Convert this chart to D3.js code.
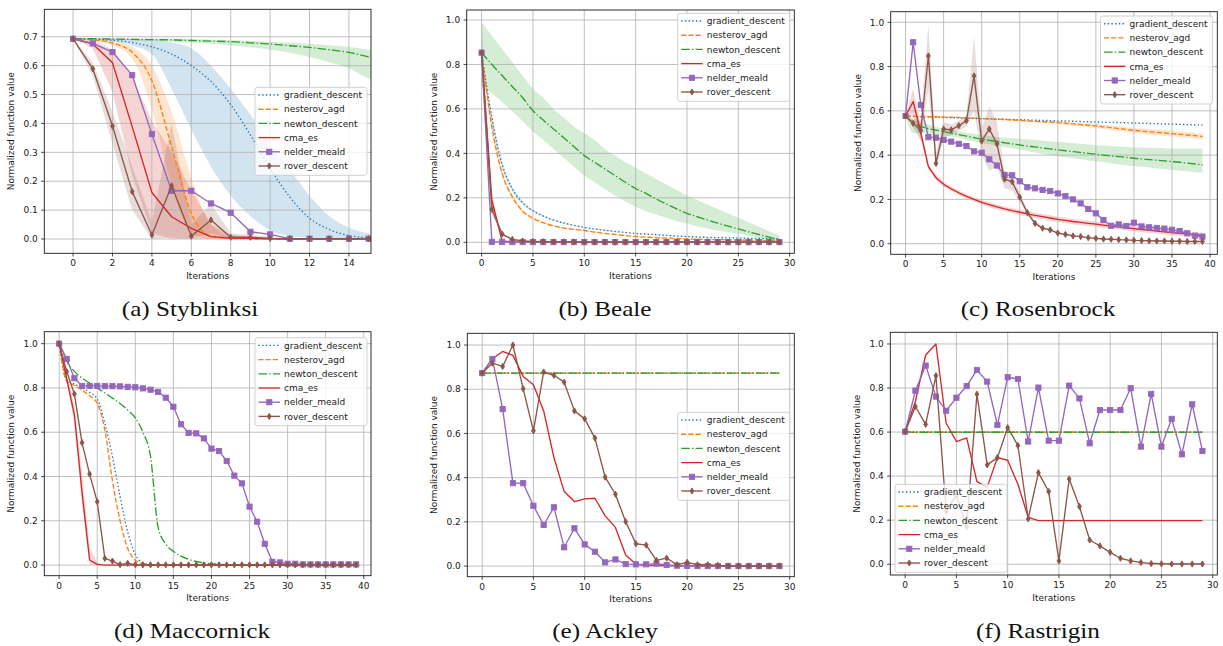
<!DOCTYPE html>
<html>
<head>
<meta charset="utf-8">
<script src="https://cdn.jsdelivr.net/npm/d3@7"></script>
<style>
  body { margin: 0; background: #fff; }
  svg { display: block; }
  text { font-family: "DejaVu Sans", sans-serif; }
  text.caption { font-family: "Liberation Serif", serif; }
</style>
</head>
<body>
<svg id="fig" width="1223" height="646"></svg>
<script>
// ---------------- series metadata ----------------
const seriesNames = ["gradient_descent", "nesterov_agd", "newton_descent", "cma_es", "nelder_meald", "rover_descent"];

// ---------------- tick labels ----------------
const styXTicks = [0, 2, 4, 6, 8, 10, 12, 14];
const styYTicks = [0.0, 0.1, 0.2, 0.3, 0.4, 0.5, 0.6, 0.7];
const thirtyXTicks = [0, 5, 10, 15, 20, 25, 30];
const fortyXTicks = [0, 5, 10, 15, 20, 25, 30, 35, 40];
const unitYTicks = [0.0, 0.2, 0.4, 0.6, 0.8, 1.0];

// ---------------- (a) Styblinksi ----------------
const styGD       = [0.693,0.692,0.688,0.680,0.665,0.640,0.600,0.545,0.465,0.360,0.245,0.145,0.072,0.033,0.012,0.004,0.001];
const styGDLo     = [0.693,0.690,0.684,0.670,0.640,0.520,0.380,0.250,0.150,0.080,0.030,0.010,0.004,0.001,0.000,0.000,0.000];
const styGDHi     = [0.693,0.694,0.693,0.692,0.690,0.680,0.660,0.600,0.520,0.430,0.330,0.240,0.150,0.080,0.040,0.020,0.010];
const styNAG      = [0.693,0.689,0.678,0.646,0.548,0.320,0.088,0.010,0.002,0.001,0.000,0.000,0.000,0.000,0.000,0.000,0.000];
const styNAGLo    = [0.693,0.686,0.670,0.625,0.450,0.190,0.020,0.000,0.000,0.000,0.000,0.000,0.000,0.000,0.000,0.000,0.000];
const styNAGHi    = [0.693,0.692,0.686,0.665,0.600,0.440,0.210,0.050,0.008,0.002,0.000,0.000,0.000,0.000,0.000,0.000,0.000];
const styNewton   = [0.693,0.693,0.692,0.691,0.690,0.689,0.687,0.685,0.683,0.679,0.675,0.669,0.663,0.655,0.646,0.630,0.615];
const styNewtonLo = [0.693,0.692,0.690,0.688,0.686,0.683,0.680,0.676,0.670,0.664,0.655,0.645,0.630,0.612,0.590,0.555,0.530];
const styNewtonHi = [0.693,0.694,0.694,0.694,0.693,0.693,0.692,0.690,0.688,0.686,0.683,0.680,0.676,0.671,0.665,0.655,0.648];
const styCMA      = [0.693,0.675,0.610,0.389,0.161,0.077,0.037,0.008,0.003,0.002,0.001,0.000,0.000,0.000,0.000,0.000,0.000];
const styCMALo    = [0.693,0.660,0.510,0.220,0.020,0.000,0.000,0.000,0.000,0.000,0.000,0.000,0.000,0.000,0.000,0.000,0.000];
const styCMAHi    = [0.693,0.690,0.655,0.560,0.410,0.300,0.170,0.050,0.015,0.008,0.004,0.002,0.001,0.000,0.000,0.000,0.000];
const styNM       = [0.693,0.677,0.647,0.567,0.363,0.167,0.167,0.123,0.091,0.025,0.016,0.001,0.001,0.001,0.001,0.001,0.001];
const styRover    = [0.693,0.589,0.391,0.164,0.014,0.184,0.010,0.066,0.006,0.006,0.002,0.001,0.001,0.001,0.001,0.001,0.001];
const styRoverLo  = [0.693,0.565,0.330,0.100,0.000,0.005,0.000,0.020,0.000,0.000,0.000,0.000,0.000,0.000,0.000,0.000,0.000];
const styRoverHi  = [0.693,0.610,0.440,0.250,0.060,0.400,0.050,0.120,0.020,0.015,0.006,0.003,0.002,0.002,0.002,0.002,0.002];

// ---------------- (b) Beale ----------------
const bealeGD       = [0.853,0.560,0.350,0.240,0.178,0.142,0.118,0.100,0.087,0.076,0.067,0.060,0.054,0.049,0.044,0.040,0.037,0.034,0.031,0.028,0.026,0.024,0.022,0.021,0.020,0.019,0.018,0.017,0.016,0.015];
const bealeGDLo     = [0.853,0.540,0.335,0.230,0.171,0.137,0.114,0.097,0.084,0.074,0.065,0.058,0.052,0.047,0.043,0.039,0.036,0.033,0.030,0.027,0.025,0.023,0.021,0.020,0.019,0.018,0.017,0.016,0.015,0.014];
const bealeGDHi     = [0.853,0.580,0.365,0.250,0.185,0.147,0.122,0.103,0.090,0.078,0.069,0.062,0.056,0.051,0.045,0.041,0.038,0.035,0.032,0.029,0.027,0.025,0.023,0.022,0.021,0.020,0.019,0.018,0.017,0.016];
const bealeNAG      = [0.853,0.520,0.310,0.205,0.140,0.108,0.088,0.074,0.064,0.058,0.053,0.046,0.040,0.035,0.030,0.026,0.023,0.021,0.019,0.017,0.015,0.014,0.013,0.012,0.011,0.010,0.009,0.009,0.008,0.008];
const bealeNAGLo    = [0.853,0.500,0.296,0.196,0.134,0.103,0.084,0.071,0.061,0.055,0.050,0.044,0.038,0.033,0.028,0.024,0.021,0.019,0.017,0.015,0.013,0.012,0.011,0.010,0.009,0.008,0.007,0.007,0.006,0.006];
const bealeNAGHi    = [0.853,0.540,0.324,0.214,0.146,0.113,0.092,0.077,0.067,0.061,0.056,0.048,0.042,0.037,0.032,0.028,0.025,0.023,0.021,0.019,0.017,0.016,0.015,0.014,0.013,0.012,0.011,0.011,0.010,0.010];
const bealeNewton   = [0.853,0.800,0.750,0.700,0.650,0.592,0.550,0.510,0.470,0.430,0.390,0.360,0.330,0.300,0.270,0.242,0.220,0.195,0.172,0.150,0.130,0.115,0.100,0.086,0.073,0.060,0.047,0.035,0.023,0.012];
const bealeNewtonLo = [0.700,0.670,0.630,0.590,0.545,0.500,0.460,0.420,0.380,0.340,0.300,0.270,0.240,0.210,0.185,0.160,0.140,0.125,0.110,0.095,0.085,0.072,0.062,0.052,0.045,0.038,0.030,0.020,0.010,0.003];
const bealeNewtonHi = [0.990,0.930,0.870,0.810,0.750,0.690,0.650,0.600,0.560,0.520,0.490,0.460,0.420,0.390,0.360,0.335,0.310,0.285,0.260,0.235,0.210,0.190,0.170,0.150,0.130,0.110,0.090,0.070,0.050,0.030];
const bealeCMA      = [0.853,0.190,0.005,0.002,0.001,0.001,0.001,0.001,0.001,0.001,0.001,0.001,0.001,0.001,0.001,0.001,0.001,0.001,0.001,0.001,0.001,0.001,0.001,0.001,0.001,0.001,0.001,0.001,0.001,0.001];
const bealeCMALo    = [0.853,0.160,0.003,0.001,0.000,0.000,0.000,0.000,0.000,0.000,0.000,0.000,0.000,0.000,0.000,0.000,0.000,0.000,0.000,0.000,0.000,0.000,0.000,0.000,0.000,0.000,0.000,0.000,0.000,0.000];
const bealeCMAHi    = [0.853,0.220,0.010,0.004,0.002,0.002,0.002,0.002,0.002,0.002,0.002,0.002,0.002,0.002,0.002,0.002,0.002,0.002,0.002,0.002,0.002,0.002,0.002,0.002,0.002,0.002,0.002,0.002,0.002,0.002];
const bealeNM       = [0.853,0.002,0.002,0.001,0.001,0.001,0.001,0.001,0.001,0.001,0.001,0.001,0.001,0.001,0.001,0.001,0.001,0.001,0.001,0.001,0.001,0.001,0.001,0.001,0.001,0.001,0.001,0.001,0.001,0.001];
const bealeRover    = [0.853,0.148,0.037,0.013,0.006,0.004,0.003,0.002,0.002,0.002,0.001,0.001,0.001,0.001,0.001,0.001,0.001,0.001,0.001,0.001,0.001,0.001,0.001,0.001,0.001,0.001,0.001,0.001,0.001,0.001];
const bealeRoverLo  = [0.750,0.125,0.030,0.010,0.004,0.003,0.002,0.001,0.001,0.001,0.000,0.000,0.000,0.000,0.000,0.000,0.000,0.000,0.000,0.000,0.000,0.000,0.000,0.000,0.000,0.000,0.000,0.000,0.000,0.000];
const bealeRoverHi  = [0.990,0.170,0.045,0.016,0.008,0.005,0.004,0.003,0.003,0.003,0.002,0.002,0.002,0.002,0.002,0.002,0.002,0.002,0.002,0.002,0.002,0.002,0.002,0.002,0.002,0.002,0.002,0.002,0.002,0.002];

// ---------------- (c) Rosenbrock ----------------
const rosenGD       = [0.575,0.574,0.573,0.572,0.571,0.570,0.569,0.568,0.567,0.566,0.565,0.564,0.563,0.562,0.561,0.560,0.559,0.558,0.557,0.556,0.555,0.554,0.553,0.552,0.551,0.550,0.549,0.548,0.547,0.546,0.545,0.544,0.543,0.542,0.541,0.540,0.539,0.538,0.537,0.536];
const rosenNAG      = [0.577,0.576,0.575,0.574,0.573,0.572,0.571,0.570,0.568,0.567,0.565,0.564,0.562,0.561,0.559,0.557,0.555,0.553,0.551,0.549,0.547,0.544,0.541,0.538,0.535,0.532,0.528,0.524,0.520,0.516,0.512,0.509,0.506,0.503,0.500,0.497,0.494,0.491,0.488,0.484];
const rosenNAGLo    = [0.577,0.574,0.573,0.572,0.571,0.570,0.569,0.568,0.566,0.565,0.562,0.561,0.559,0.557,0.555,0.552,0.550,0.547,0.545,0.542,0.540,0.536,0.533,0.530,0.526,0.523,0.518,0.514,0.510,0.505,0.501,0.497,0.494,0.490,0.487,0.484,0.481,0.478,0.475,0.471];
const rosenNAGHi    = [0.577,0.578,0.577,0.576,0.575,0.574,0.573,0.572,0.570,0.569,0.568,0.567,0.565,0.565,0.563,0.562,0.560,0.559,0.557,0.556,0.554,0.552,0.549,0.546,0.544,0.541,0.538,0.534,0.530,0.527,0.523,0.521,0.518,0.516,0.513,0.510,0.507,0.504,0.501,0.497];
const rosenNewton   = [0.577,0.545,0.530,0.520,0.513,0.506,0.500,0.493,0.486,0.479,0.473,0.467,0.461,0.456,0.451,0.446,0.441,0.437,0.432,0.428,0.424,0.420,0.416,0.412,0.408,0.404,0.400,0.396,0.393,0.390,0.386,0.383,0.380,0.377,0.374,0.371,0.368,0.364,0.360,0.356];
const rosenNewtonLo = [0.577,0.500,0.500,0.496,0.493,0.490,0.484,0.479,0.470,0.462,0.455,0.449,0.443,0.437,0.431,0.425,0.419,0.412,0.406,0.400,0.395,0.390,0.386,0.381,0.376,0.372,0.368,0.363,0.358,0.354,0.350,0.347,0.344,0.340,0.337,0.333,0.330,0.327,0.323,0.320];
const rosenNewtonHi = [0.577,0.560,0.550,0.538,0.528,0.520,0.513,0.507,0.500,0.495,0.490,0.486,0.482,0.478,0.476,0.474,0.472,0.468,0.465,0.462,0.460,0.457,0.454,0.451,0.448,0.445,0.443,0.441,0.439,0.437,0.435,0.434,0.433,0.432,0.431,0.430,0.430,0.430,0.430,0.430];
const rosenCMA      = [0.577,0.642,0.500,0.348,0.298,0.268,0.248,0.230,0.214,0.200,0.187,0.176,0.166,0.157,0.149,0.142,0.135,0.128,0.122,0.116,0.110,0.105,0.100,0.096,0.092,0.088,0.084,0.080,0.076,0.072,0.068,0.064,0.061,0.057,0.054,0.050,0.047,0.044,0.041,0.038];
const rosenCMALo    = [0.577,0.580,0.470,0.335,0.287,0.258,0.238,0.220,0.204,0.190,0.177,0.165,0.155,0.146,0.138,0.130,0.123,0.116,0.110,0.104,0.098,0.093,0.088,0.084,0.080,0.076,0.072,0.068,0.064,0.060,0.056,0.052,0.049,0.045,0.042,0.038,0.035,0.032,0.029,0.026];
const rosenCMAHi    = [0.577,0.700,0.530,0.360,0.310,0.280,0.258,0.240,0.224,0.210,0.197,0.187,0.177,0.168,0.160,0.154,0.147,0.140,0.134,0.128,0.122,0.117,0.112,0.108,0.104,0.100,0.096,0.092,0.088,0.084,0.080,0.076,0.073,0.069,0.066,0.062,0.059,0.056,0.053,0.050];
const rosenNM       = [0.577,0.910,0.627,0.481,0.479,0.469,0.461,0.451,0.441,0.417,0.411,0.381,0.353,0.310,0.309,0.282,0.255,0.250,0.243,0.238,0.227,0.215,0.200,0.182,0.157,0.137,0.107,0.081,0.087,0.080,0.095,0.078,0.074,0.071,0.068,0.063,0.057,0.047,0.036,0.032];
const rosenRover    = [0.577,0.544,0.511,0.848,0.363,0.518,0.514,0.533,0.556,0.758,0.464,0.518,0.451,0.291,0.280,0.210,0.140,0.092,0.070,0.062,0.048,0.042,0.035,0.032,0.027,0.024,0.021,0.020,0.018,0.017,0.015,0.014,0.013,0.012,0.012,0.011,0.011,0.010,0.010,0.010];
const rosenRoverLo  = [0.577,0.525,0.460,0.700,0.330,0.480,0.490,0.510,0.530,0.600,0.400,0.330,0.350,0.250,0.240,0.190,0.128,0.084,0.064,0.057,0.044,0.038,0.032,0.029,0.024,0.021,0.019,0.018,0.016,0.015,0.013,0.012,0.011,0.010,0.010,0.009,0.009,0.008,0.008,0.008];
const rosenRoverHi  = [0.577,0.565,0.560,0.990,0.410,0.550,0.540,0.555,0.580,0.935,0.520,0.620,0.550,0.330,0.320,0.230,0.152,0.100,0.076,0.067,0.052,0.046,0.038,0.035,0.030,0.027,0.023,0.022,0.020,0.019,0.017,0.016,0.015,0.014,0.014,0.013,0.013,0.012,0.012,0.012];

// ---------------- (d) Maccornick ----------------
const maccGD     = [1.000,0.835,0.818,0.800,0.780,0.750,0.640,0.490,0.310,0.150,0.048,0.010,0.003,0.001,0.000,0.000,0.000,0.000,0.000,0.000,0.000,0.000,0.000,0.000,0.000,0.000,0.000,0.000,0.000,0.000,0.000,0.000,0.000,0.000,0.000,0.000,0.000,0.000,0.000,0.000];
const maccNAG    = [1.000,0.830,0.812,0.790,0.765,0.730,0.610,0.380,0.200,0.075,0.022,0.006,0.001,0.000,0.000,0.000,0.000,0.000,0.000,0.000,0.000,0.000,0.000,0.000,0.000,0.000,0.000,0.000,0.000,0.000,0.000,0.000,0.000,0.000,0.000,0.000,0.000,0.000,0.000,0.000];
const maccNewton = [1.000,0.920,0.875,0.845,0.822,0.800,0.777,0.754,0.730,0.700,0.665,0.600,0.490,0.170,0.095,0.062,0.040,0.026,0.016,0.010,0.006,0.004,0.002,0.001,0.000,0.000,0.000,0.000,0.000,0.000,0.000,0.000,0.000,0.000,0.000,0.000,0.000,0.000,0.000,0.000];
const maccCMA    = [1.000,0.840,0.678,0.330,0.023,0.003,0.000,0.000,0.000,0.000,0.000,0.000,0.000,0.000,0.000,0.000,0.000,0.000,0.000,0.000,0.000,0.000,0.000,0.000,0.000,0.000,0.000,0.000,0.000,0.000,0.000,0.000,0.000,0.000,0.000,0.000,0.000,0.000,0.000,0.000];
const maccCMALo  = [1.000,0.820,0.640,0.270,0.005,0.000,0.000,0.000,0.000,0.000,0.000,0.000,0.000,0.000,0.000,0.000,0.000,0.000,0.000,0.000,0.000,0.000,0.000,0.000,0.000,0.000,0.000,0.000,0.000,0.000,0.000,0.000,0.000,0.000,0.000,0.000,0.000,0.000,0.000,0.000];
const maccCMAHi  = [1.000,0.860,0.720,0.420,0.080,0.010,0.002,0.000,0.000,0.000,0.000,0.000,0.000,0.000,0.000,0.000,0.000,0.000,0.000,0.000,0.000,0.000,0.000,0.000,0.000,0.000,0.000,0.000,0.000,0.000,0.000,0.000,0.000,0.000,0.000,0.000,0.000,0.000,0.000,0.000];
const maccNM     = [1.000,0.931,0.844,0.809,0.809,0.809,0.808,0.808,0.807,0.805,0.803,0.798,0.792,0.782,0.756,0.715,0.636,0.597,0.595,0.572,0.526,0.515,0.470,0.404,0.369,0.264,0.196,0.096,0.015,0.012,0.006,0.006,0.003,0.003,0.003,0.003,0.003,0.003,0.003,0.003];
const maccRover  = [1.000,0.874,0.773,0.553,0.411,0.286,0.030,0.018,0.002,0.008,0.002,0.001,0.001,0.001,0.001,0.001,0.001,0.001,0.001,0.001,0.001,0.001,0.001,0.001,0.001,0.001,0.001,0.001,0.001,0.001,0.001,0.001,0.001,0.001,0.001,0.001,0.001,0.001,0.001,0.001];

// ---------------- (e) Ackley ----------------
const ackGD     = [0.873,0.873,0.873,0.873,0.873,0.873,0.873,0.873,0.873,0.873,0.873,0.873,0.873,0.873,0.873,0.873,0.873,0.873,0.873,0.873,0.873,0.873,0.873,0.873,0.873,0.873,0.873,0.873,0.873,0.873];
const ackNAG    = [0.873,0.873,0.873,0.873,0.873,0.873,0.873,0.873,0.873,0.873,0.873,0.873,0.873,0.873,0.873,0.873,0.873,0.873,0.873,0.873,0.873,0.873,0.873,0.873,0.873,0.873,0.873,0.873,0.873,0.873];
const ackNewton = [0.873,0.873,0.873,0.873,0.873,0.873,0.873,0.873,0.873,0.873,0.873,0.873,0.873,0.873,0.873,0.873,0.873,0.873,0.873,0.873,0.873,0.873,0.873,0.873,0.873,0.873,0.873,0.873,0.873,0.873];
const ackCMA    = [0.873,0.938,0.971,0.953,0.858,0.820,0.702,0.491,0.337,0.292,0.304,0.307,0.227,0.175,0.050,0.008,0.004,0.003,0.002,0.001,0.001,0.000,0.000,0.000,0.000,0.000,0.000,0.000,0.000,0.000];
const ackNM     = [0.873,0.937,0.710,0.375,0.375,0.273,0.186,0.266,0.085,0.171,0.098,0.065,0.017,0.030,0.009,0.008,0.008,0.011,0.005,0.002,0.001,0.000,0.000,0.000,0.000,0.000,0.000,0.000,0.000,0.000];
const ackRover  = [0.873,0.918,0.903,1.000,0.802,0.612,0.878,0.863,0.832,0.702,0.666,0.579,0.402,0.325,0.201,0.101,0.095,0.026,0.036,0.006,0.017,0.006,0.006,0.003,0.001,0.001,0.001,0.001,0.001,0.001];

// ---------------- (f) Rastrigin ----------------
const rastGD     = [0.602,0.599,0.599,0.599,0.599,0.599,0.599,0.599,0.599,0.599,0.599,0.599,0.599,0.599,0.599,0.599,0.599,0.599,0.599,0.599,0.599,0.599,0.599,0.599,0.599,0.599,0.599,0.599,0.599,0.599];
const rastNAG    = [0.602,0.599,0.599,0.599,0.599,0.599,0.599,0.599,0.599,0.599,0.599,0.599,0.599,0.599,0.599,0.599,0.599,0.599,0.599,0.599,0.599,0.599,0.599,0.599,0.599,0.599,0.599,0.599,0.599,0.599];
const rastNewton = [0.602,0.599,0.599,0.599,0.599,0.599,0.599,0.599,0.599,0.599,0.599,0.599,0.599,0.599,0.599,0.599,0.599,0.599,0.599,0.599,0.599,0.599,0.599,0.599,0.599,0.599,0.599,0.599,0.599,0.599];
const rastCMA    = [0.602,0.740,0.950,1.000,0.640,0.557,0.574,0.375,0.350,0.484,0.472,0.363,0.213,0.198,0.198,0.198,0.198,0.198,0.198,0.198,0.198,0.198,0.198,0.198,0.198,0.198,0.198,0.198,0.198,0.198];
const rastNM     = [0.602,0.788,0.902,0.761,0.697,0.756,0.809,0.882,0.829,0.632,0.849,0.841,0.557,0.802,0.561,0.561,0.811,0.753,0.549,0.700,0.700,0.700,0.799,0.534,0.773,0.534,0.660,0.499,0.726,0.514];
const rastRover  = [0.602,0.716,0.635,0.856,0.240,0.315,0.171,0.772,0.451,0.484,0.620,0.539,0.206,0.416,0.330,0.015,0.387,0.262,0.110,0.083,0.054,0.027,0.015,0.008,0.003,0.002,0.001,0.001,0.001,0.001];

// ---------------- styling ----------------
const colors = ["#1f77b4", "#ff7f0e", "#2ca02c", "#d62728", "#9467bd", "#8c564b"];
const dashes = ["1.4,2.3", "5,2.2", "8.6,2.2,1.4,2.2", null, null, null];
const markers = [null, null, null, null, "square", "thin_diamond"];
const smooth = [true, true, true, false, false, false];
const LW = 1.35;

// Panel layouts (pixel boxes and axis ranges).
const panels = [
  { caption: "(a) Styblinksi", box: [44.3, 371, 9.3, 253.3], xdom: [-1.46, 15.12], ydom: [-0.0495, 0.795],
    xticks: styXTicks, yticks: styYTicks, yfmt: ".1f",
    lines: [styGD, styNAG, styNewton, styCMA, styNM, styRover],
    bands: [[styGDLo, styGDHi], [styNAGLo, styNAGHi], [styNewtonLo, styNewtonHi], [styCMALo, styCMAHi], null, [styRoverLo, styRoverHi]],
    legend: [255, 87.3], cap: [190, 316] },
  { caption: "(b) Beale", box: [466.7, 794.3, 10, 253.3], xdom: [-1.45, 30.45], ydom: [-0.0495, 1.045],
    xticks: thirtyXTicks, yticks: unitYTicks, yfmt: ".1f",
    lines: [bealeGD, bealeNAG, bealeNewton, bealeCMA, bealeNM, bealeRover],
    bands: [[bealeGDLo, bealeGDHi], [bealeNAGLo, bealeNAGHi], [bealeNewtonLo, bealeNewtonHi], [bealeCMALo, bealeCMAHi], null, [bealeRoverLo, bealeRoverHi]],
    legend: [677.7, 13.3], cap: [605, 316] },
  { caption: "(c) Rosenbrock", box: [890.7, 1217.3, 11.7, 254.3], xdom: [-1.95, 40.95], ydom: [-0.048, 1.048],
    xticks: fortyXTicks, yticks: unitYTicks, yfmt: ".1f",
    lines: [rosenGD, rosenNAG, rosenNewton, rosenCMA, rosenNM, rosenRover],
    bands: [null, [rosenNAGLo, rosenNAGHi], [rosenNewtonLo, rosenNewtonHi], [rosenCMALo, rosenCMAHi], null, [rosenRoverLo, rosenRoverHi]],
    legend: [1100.5, 16], cap: [1038, 316] },
  { caption: "(d) Maccornick", box: [44.3, 371, 331.7, 575.7], xdom: [-1.95, 40.95], ydom: [-0.048, 1.054],
    xticks: fortyXTicks, yticks: unitYTicks, yfmt: ".1f",
    lines: [maccGD, maccNAG, maccNewton, maccCMA, maccNM, maccRover],
    bands: [null, null, null, [maccCMALo, maccCMAHi], null, null],
    legend: [255, 337.7], cap: [192, 638] },
  { caption: "(e) Ackley", box: [467.3, 794.3, 333.3, 576.7], xdom: [-1.45, 30.45], ydom: [-0.048, 1.053],
    xticks: thirtyXTicks, yticks: unitYTicks, yfmt: ".1f",
    lines: [ackGD, ackNAG, ackNewton, ackCMA, ackNM, ackRover],
    bands: [null, null, null, null, null, null],
    legend: [677.7, 412.3], cap: [605, 638] },
  { caption: "(f) Rastrigin", box: [890.3, 1217.3, 332.3, 575], xdom: [-1.45, 30.45], ydom: [-0.049, 1.053],
    xticks: thirtyXTicks, yticks: unitYTicks, yfmt: ".1f",
    lines: [rastGD, rastNAG, rastNewton, rastCMA, rastNM, rastRover],
    bands: [null, null, null, null, null, null],
    legend: [895, 484.3], cap: [1038, 638] }
];

const svg = d3.select("#fig");
svg.append("rect").attr("width", 1223).attr("height", 646).attr("fill", "#fff");
const defs = svg.append("defs");

function drawMarker(g, kind, x, y, color) {
  if (kind === "square") {
    const s = 5.2;
    g.append("rect").attr("x", x - s / 2).attr("y", y - s / 2).attr("width", s).attr("height", s)
      .attr("fill", color).attr("stroke", color).attr("stroke-width", 0.9);
  } else if (kind === "thin_diamond") {
    const h = 3.1, w = 1.9;
    g.append("path").attr("d", `M${x},${y - h}L${x + w},${y}L${x},${y + h}L${x - w},${y}Z`)
      .attr("fill", color).attr("stroke", color).attr("stroke-width", 0.9);
  }
}

panels.forEach((p, pi) => {
  const [l, r, t, b] = p.box;
  const x = d3.scaleLinear().domain(p.xdom).range([l, r]);
  const y = d3.scaleLinear().domain(p.ydom).range([b, t]);
  const clipId = "clip" + pi;
  defs.append("clipPath").attr("id", clipId).append("rect")
    .attr("x", l).attr("y", t).attr("width", r - l).attr("height", b - t);

  const g = svg.append("g");
  const plot = g.append("g").attr("clip-path", `url(#${clipId})`);

  // confidence bands
  p.bands.forEach((band, si) => {
    if (!band) return;
    const [lo, hi] = band;
    const area = d3.area()
      .x((d, i) => x(i)).y0((d, i) => y(lo[i])).y1((d, i) => y(hi[i]))
      .curve(smooth[si] ? d3.curveMonotoneX : d3.curveLinear);
    plot.append("path").datum(lo).attr("d", area)
      .attr("fill", colors[si]).attr("fill-opacity", 0.2).attr("stroke", "none");
  });

  // grid
  const grid = plot.append("g").attr("stroke", "#b0b0b0").attr("stroke-width", 0.8);
  p.xticks.forEach(v => grid.append("line").attr("x1", x(v)).attr("x2", x(v)).attr("y1", t).attr("y2", b));
  p.yticks.forEach(v => grid.append("line").attr("x1", l).attr("x2", r).attr("y1", y(v)).attr("y2", y(v)));

  // lines + markers
  p.lines.forEach((vals, si) => {
    const line = d3.line().x((d, i) => x(i)).y(d => y(d))
      .curve(smooth[si] ? d3.curveMonotoneX : d3.curveLinear);
    const path = plot.append("path").datum(vals).attr("d", line)
      .attr("fill", "none").attr("stroke", colors[si]).attr("stroke-width", LW)
      .attr("stroke-linejoin", "round");
    if (dashes[si]) path.attr("stroke-dasharray", dashes[si]);
    if (markers[si]) {
      const mg = plot.append("g");
      vals.forEach((v, i) => drawMarker(mg, markers[si], x(i), y(v), colors[si]));
    }
  });

  // frame
  g.append("rect").attr("x", l).attr("y", t).attr("width", r - l).attr("height", b - t)
    .attr("fill", "none").attr("stroke", "#1a1a1a").attr("stroke-width", 0.9);

  // ticks and tick labels
  const tk = g.append("g").attr("fill", "#1a1a1a").attr("font-size", 9);
  p.xticks.forEach(v => {
    tk.append("line").attr("x1", x(v)).attr("x2", x(v)).attr("y1", b).attr("y2", b + 3.2)
      .attr("stroke", "#1a1a1a").attr("stroke-width", 0.8);
    tk.append("text").attr("x", x(v)).attr("y", b + 13).attr("text-anchor", "middle").text(v);
  });
  const fmt = d3.format(p.yfmt);
  p.yticks.forEach(v => {
    tk.append("line").attr("x1", l - 3.2).attr("x2", l).attr("y1", y(v)).attr("y2", y(v))
      .attr("stroke", "#1a1a1a").attr("stroke-width", 0.8);
    tk.append("text").attr("x", l - 6.5).attr("y", y(v) + 3.2).attr("text-anchor", "end").text(fmt(v));
  });

  // axis labels
  g.append("text").attr("x", (l + r) / 2).attr("y", b + 25.5).attr("text-anchor", "middle")
    .attr("font-size", 9).attr("fill", "#1a1a1a").text("Iterations");
  g.append("text").attr("transform", `translate(${l - 30},${(t + b) / 2}) rotate(-90)`)
    .attr("text-anchor", "middle").attr("font-size", 9).attr("fill", "#1a1a1a").text("Normalized function value");

  // legend
  const [lx, ly] = p.legend;
  const lg = g.append("g");
  lg.append("rect").attr("x", lx).attr("y", ly).attr("width", 112).attr("height", 88).attr("rx", 2.5)
    .attr("fill", "#fff").attr("fill-opacity", 0.8).attr("stroke", "#cccccc").attr("stroke-width", 0.9);
  seriesNames.forEach((name, si) => {
    const cy = ly + 7.7 + si * 14.2;
    const seg = lg.append("line").attr("x1", lx + 3.5).attr("x2", lx + 25).attr("y1", cy).attr("y2", cy)
      .attr("stroke", colors[si]).attr("stroke-width", LW);
    if (dashes[si]) seg.attr("stroke-dasharray", dashes[si]);
    if (markers[si]) drawMarker(lg, markers[si], lx + 14.25, cy, colors[si]);
    lg.append("text").attr("x", lx + 29).attr("y", cy + 3.2).attr("font-size", 9).attr("fill", "#1a1a1a").text(name);
  });

  // caption
  const cap = svg.append("text").attr("class", "caption").attr("x", p.cap[0]).attr("y", p.cap[1])
    .attr("text-anchor", "middle").attr("font-size", 21).attr("fill", "#111")
    .text(p.caption);
  const natural = cap.node().getComputedTextLength();
  cap.attr("textLength", natural * 1.2).attr("lengthAdjust", "spacingAndGlyphs");
});
</script>
</body>
</html>
